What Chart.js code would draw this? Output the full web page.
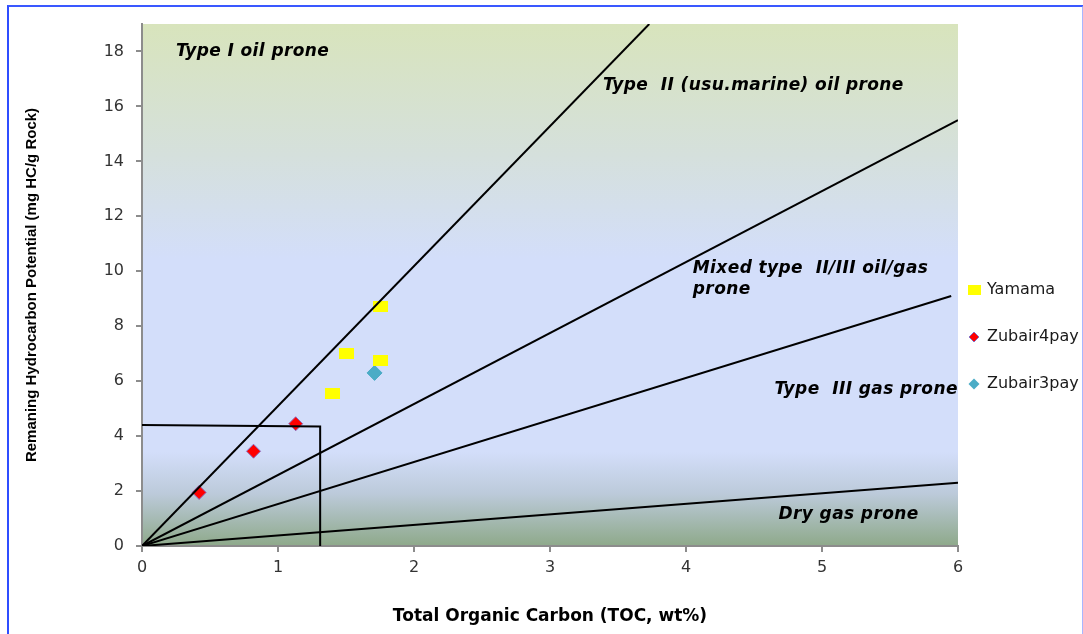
<!DOCTYPE html>
<html>
<head>
<meta charset="utf-8">
<title>TOC vs S2 kerogen type plot</title>
<script src="https://cdn.jsdelivr.net/npm/chart.js@4"></script>
<style>
  html, body { margin: 0; padding: 0; background: #fff; }
  #wrap { position: relative; width: 1083px; height: 634px; }
  #frame {
    position: absolute; left: 7px; top: 5px; width: 1073px; height: 640px;
    border-left: 2px solid #2f4dff; border-top: 2px solid #3a58ff; border-right: 2px solid #a8b6ff;
    pointer-events: none;
  }
</style>
</head>
<body>
<div id="wrap">
  <canvas id="kerogenChart" width="1083" height="634"></canvas>
  <div id="frame"></div>
</div>
<script>
// sample points (TOC wt%, S2 mg HC/g rock)
const yamamaToc = [1.75, 1.5, 1.75, 1.4];
const yamamaS2 = [8.7, 7.0, 6.75, 5.55];
const zubair4Toc = [0.42, 0.82, 1.13];
const zubair4S2 = [1.95, 3.45, 4.45];
const zubair3Toc = [1.71];
const zubair3S2 = [6.3];

// kerogen type boundary lines, all from the origin
const boundaryToc = [3.73, 6, 5.95, 6];
const boundaryS2 = [19, 15.5, 9.1, 2.3];

// cutoff box
const cutoffToc = [0, 1.31, 1.31];
const cutoffS2 = [4.4, 4.35, 0];

const xTicks = [0, 1, 2, 3, 4, 5, 6];
const yTicks = [0, 2, 4, 6, 8, 10, 12, 14, 16, 18];

const seriesNames = ['Yamama', 'Zubair4pay', 'Zubair3pay'];

// zone labels: text lines, TOC, S2
const zoneText = [
  ['Type I oil prone'],
  ['Type  II (usu.marine) oil prone'],
  ['Mixed type  II/III oil/gas', 'prone'],
  ['Type  III gas prone'],
  ['Dry gas prone']
];
const zoneToc = [0.25, 3.39, 4.05, 4.65, 4.68];
const zoneS2 = [18.0, 16.76, 10.11, 5.71, 1.13];

const pts = (xs, ys) => xs.map((x, i) => ({ x: x, y: ys[i] }));

// yellow rectangle marker, a bit wider than tall
const yellowBox = document.createElement('canvas');
yellowBox.width = 15; yellowBox.height = 11;
const yb = yellowBox.getContext('2d');
yb.fillStyle = '#ffff00';
yb.fillRect(0, 0, 15, 11);

const lineSets = boundaryToc.map((x, i) => ({
  data: [{ x: 0, y: 0 }, { x: x, y: boundaryS2[i] }],
  showLine: true, borderColor: '#000', borderWidth: 2, pointRadius: 0
}));

const ctx = document.getElementById('kerogenChart').getContext('2d');

const bgPlugin = {
  id: 'plotBackground',
  beforeDraw(chart) {
    const { ctx, chartArea: a } = chart;
    const g = ctx.createLinearGradient(0, a.top, 0, a.bottom);
    g.addColorStop(0, '#d8e4bc');
    g.addColorStop(0.25, '#d5e0dc');
    g.addColorStop(0.45, '#d3defa');
    g.addColorStop(0.82, '#d3defa');
    g.addColorStop(0.9, '#bccada');
    g.addColorStop(1, '#8ea98a');
    ctx.save();
    ctx.fillStyle = g;
    ctx.fillRect(a.left, a.top, a.right - a.left, a.bottom - a.top);
    ctx.restore();
  }
};

const labelPlugin = {
  id: 'zoneLabels',
  afterDraw(chart) {
    const { ctx, scales: { x, y } } = chart;
    ctx.save();
    ctx.fillStyle = '#000';
    ctx.font = 'italic bold 17px "DejaVu Sans"';
    ctx.letterSpacing = '0.4px';
    ctx.textBaseline = 'middle';
    zoneText.forEach((lines, i) => {
      lines.forEach((t, j) => {
        ctx.fillText(t, x.getPixelForValue(zoneToc[i]), y.getPixelForValue(zoneS2[i]) + j * 21);
      });
    });
    ctx.letterSpacing = '0px';

    // legend
    ctx.font = '16px "DejaVu Sans"';
    const lx = 968, ly = 290, gap = 47;
    ctx.fillStyle = '#ffff00';
    ctx.fillRect(lx, ly - 5, 13, 10);
    const diamond = (cx, cy, r, fill, stroke) => {
      ctx.beginPath();
      ctx.moveTo(cx, cy - r); ctx.lineTo(cx + r, cy); ctx.lineTo(cx, cy + r); ctx.lineTo(cx - r, cy);
      ctx.closePath();
      ctx.fillStyle = fill; ctx.fill();
      if (stroke) { ctx.strokeStyle = stroke; ctx.lineWidth = 1; ctx.stroke(); }
    };
    diamond(lx + 6, ly + gap, 5, '#ff0000', '#8a6fc0');
    diamond(lx + 6, ly + gap * 2, 5.5, '#4bacc6');
    ctx.fillStyle = '#1a1a1a';
    seriesNames.forEach((n, i) => ctx.fillText(n, lx + 19, ly + gap * i));
    ctx.restore();
  }
};

new Chart(ctx, {
  type: 'scatter',
  data: {
    datasets: [
      ...lineSets,
      {
        data: pts(cutoffToc, cutoffS2),
        showLine: true, borderColor: '#000', borderWidth: 2, pointRadius: 0
      },
      {
        label: seriesNames[0], data: pts(yamamaToc, yamamaS2),
        pointStyle: yellowBox
      },
      {
        label: seriesNames[1], data: pts(zubair4Toc, zubair4S2),
        pointStyle: 'rectRot', pointRadius: 7, backgroundColor: '#ff0000',
        borderColor: '#8a6fc0', borderWidth: 1
      },
      {
        label: seriesNames[2], data: pts(zubair3Toc, zubair3S2),
        pointStyle: 'rectRot', pointRadius: 7.5, backgroundColor: '#4bacc6',
        borderColor: '#4bacc6', borderWidth: 1
      }
    ]
  },
  options: {
    responsive: false,
    animation: false,
    events: [],
    layout: { padding: { top: 24, right: 125, bottom: 0, left: 0 } },
    plugins: { legend: { display: false }, tooltip: { enabled: false } },
    scales: {
      x: {
        min: 0, max: 6,
        afterBuildTicks: s => { s.ticks = xTicks.map(v => ({ value: v })); },
        afterFit: s => { s.height = 88; },
        grid: { drawOnChartArea: false, drawTicks: true, tickLength: 6, color: '#8c8c8c', lineWidth: 2 },
        border: { color: '#8c8c8c', width: 2 },
        ticks: { color: '#333', padding: 6, font: { family: 'DejaVu Sans', size: 16 } },
        title: {
          display: true, text: 'Total Organic Carbon (TOC, wt%)', color: '#000',
          padding: { top: 0, bottom: 7 },
          font: { family: 'DejaVu Sans', size: 17, weight: 'bold' }
        }
      },
      y: {
        min: 0, max: 19,
        afterBuildTicks: s => { s.ticks = yTicks.map(v => ({ value: v })); },
        afterFit: s => { s.width = 142; },
        grid: { drawOnChartArea: false, drawTicks: true, tickLength: 6, color: '#8c8c8c', lineWidth: 2 },
        border: { color: '#8c8c8c', width: 2 },
        ticks: { color: '#333', padding: 12, font: { family: 'DejaVu Sans', size: 16 } },
        title: {
          display: true, text: 'Remaning Hydrocarbon Potential (mg HC/g Rock)', color: '#000',
          padding: { top: 23, bottom: 0 },
          font: { family: 'Liberation Sans', size: 15, weight: 'bold' }
        }
      }
    }
  },
  plugins: [bgPlugin, labelPlugin]
});
</script>
</body>
</html>
